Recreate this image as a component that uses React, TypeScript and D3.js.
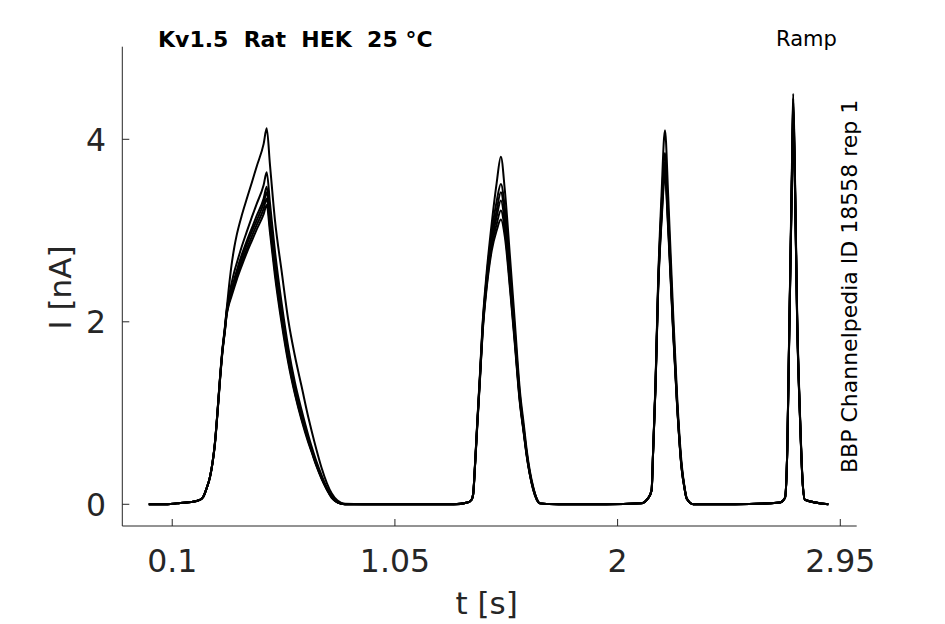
import React from "react";
import * as d3 from "d3";

// time grid [s] shared by all sweeps
const time = [
  0.0, 0.06, 0.12, 0.18, 0.215, 0.232, 0.246, 0.261, 0.272, 0.282, 0.293, 0.304, 0.314, 0.325,
  0.332, 0.339, 0.353, 0.365, 0.375, 0.396, 0.417, 0.44, 0.46, 0.49, 0.503,
  0.517, 0.538, 0.567, 0.595, 0.623, 0.652, 0.68, 0.695, 0.715, 0.737, 0.76, 0.78, 0.805, 0.837, 0.915,
  1.1, 1.3, 1.36, 1.377, 1.384, 1.391, 1.401, 1.413, 1.424, 1.441, 1.463, 1.484, 1.502, 1.519, 1.541, 1.562, 1.583, 1.6, 1.612, 1.626, 1.64, 1.655, 1.669, 1.75,
  1.95, 2.1, 2.131, 2.145, 2.152, 2.162, 2.173, 2.187, 2.202, 2.216, 2.237, 2.254, 2.273, 2.285, 2.295, 2.323,
  2.5, 2.693, 2.714, 2.724, 2.731, 2.738, 2.745, 2.749, 2.757, 2.766, 2.778, 2.789, 2.799, 2.899,
];

// current [nA] per sweep
const sweep1 = [
  0, 0, 0.01, 0.025, 0.045, 0.08, 0.17, 0.3, 0.46, 0.67, 1.02, 1.4, 1.7, 1.95,
  2.13, 2.31, 2.62, 2.82, 2.95, 3.16, 3.34, 3.53, 3.7, 3.95, 4.12,
  3.72, 3.12, 2.55, 2.02, 1.63, 1.29, 0.96, 0.8, 0.6, 0.4, 0.23, 0.12, 0.04, 0.005, 0,
  0, 0, 0.02, 0.05, 0.12, 0.41, 0.89, 1.44, 1.98, 2.53, 3.08, 3.52, 3.81, 3.44, 2.71, 1.98, 1.25, 0.87, 0.6, 0.36, 0.19, 0.06, 0.01, 0,
  0, 0.01, 0.07, 0.16, 0.63, 1.36, 2.46, 3.37, 4.1, 3.37, 2.09, 1.18, 0.45, 0.2, 0.07, 0,
  0, 0.02, 0.07, 0.63, 1.73, 2.82, 3.92, 4.5, 3.55, 2.09, 1.0, 0.27, 0.05, 0,
];
const sweep2 = [
  0, 0, 0.01, 0.025, 0.045, 0.08, 0.17, 0.3, 0.46, 0.67, 1.01, 1.39, 1.69, 1.94,
  2.12, 2.24, 2.42, 2.55, 2.64, 2.82, 2.98, 3.15, 3.29, 3.5, 3.64,
  3.3, 2.78, 2.2, 1.72, 1.34, 1.03, 0.76, 0.63, 0.47, 0.32, 0.18, 0.09, 0.02, 0, 0,
  0, 0, 0.02, 0.05, 0.12, 0.4, 0.88, 1.42, 1.95, 2.48, 2.98, 3.32, 3.51, 3.25, 2.58, 1.88, 1.2, 0.82, 0.57, 0.34, 0.18, 0.06, 0.01, 0,
  0, 0.01, 0.07, 0.16, 0.62, 1.34, 2.42, 3.25, 3.85, 3.2, 1.98, 1.12, 0.42, 0.19, 0.06, 0,
  0, 0.02, 0.07, 0.62, 1.7, 2.78, 3.85, 4.45, 3.5, 2.05, 0.98, 0.26, 0.05, 0,
];
const sweep3 = [
  0, 0, 0.01, 0.025, 0.045, 0.08, 0.17, 0.3, 0.46, 0.67, 1.01, 1.39, 1.68, 1.93,
  2.1, 2.21, 2.36, 2.47, 2.56, 2.73, 2.88, 3.03, 3.16, 3.35, 3.48,
  3.15, 2.65, 2.1, 1.64, 1.28, 0.98, 0.72, 0.6, 0.45, 0.3, 0.17, 0.08, 0.02, 0, 0,
  0, 0, 0.02, 0.05, 0.12, 0.4, 0.87, 1.41, 1.93, 2.45, 2.92, 3.22, 3.42, 3.16, 2.5, 1.83, 1.17, 0.8, 0.56, 0.33, 0.17, 0.06, 0.01, 0,
  0, 0.01, 0.07, 0.16, 0.62, 1.33, 2.4, 3.2, 3.75, 3.12, 1.94, 1.1, 0.41, 0.19, 0.06, 0,
  0, 0.02, 0.07, 0.62, 1.7, 2.76, 3.82, 4.4, 3.48, 2.03, 0.97, 0.26, 0.05, 0,
];
const sweep4 = [
  0, 0, 0.01, 0.025, 0.045, 0.08, 0.17, 0.3, 0.46, 0.66, 1.0, 1.38, 1.68, 1.92,
  2.09, 2.19, 2.33, 2.44, 2.52, 2.69, 2.84, 2.99, 3.11, 3.3, 3.42,
  3.1, 2.61, 2.06, 1.61, 1.26, 0.96, 0.71, 0.59, 0.44, 0.29, 0.17, 0.08, 0.02, 0, 0,
  0, 0, 0.02, 0.05, 0.11, 0.39, 0.86, 1.4, 1.91, 2.42, 2.88, 3.15, 3.33, 3.08, 2.45, 1.8, 1.15, 0.79, 0.55, 0.33, 0.17, 0.06, 0.01, 0,
  0, 0.01, 0.07, 0.15, 0.61, 1.32, 2.38, 3.16, 3.7, 3.08, 1.92, 1.09, 0.4, 0.18, 0.06, 0,
  0, 0.02, 0.07, 0.61, 1.68, 2.74, 3.78, 4.36, 3.45, 2.02, 0.96, 0.25, 0.05, 0,
];
const sweep5 = [
  0, 0, 0.01, 0.025, 0.045, 0.08, 0.17, 0.3, 0.45, 0.66, 1.0, 1.37, 1.67, 1.91,
  2.08, 2.18, 2.31, 2.41, 2.49, 2.65, 2.79, 2.94, 3.06, 3.24, 3.35,
  3.04, 2.56, 2.02, 1.58, 1.23, 0.94, 0.7, 0.58, 0.43, 0.29, 0.16, 0.08, 0.02, 0, 0,
  0, 0, 0.02, 0.05, 0.11, 0.39, 0.85, 1.38, 1.89, 2.39, 2.83, 3.07, 3.22, 3.0, 2.4, 1.77, 1.13, 0.78, 0.54, 0.32, 0.16, 0.05, 0.01, 0,
  0, 0.01, 0.07, 0.15, 0.61, 1.31, 2.36, 3.12, 3.64, 3.04, 1.9, 1.08, 0.4, 0.18, 0.06, 0,
  0, 0.02, 0.07, 0.61, 1.67, 2.72, 3.75, 4.3, 3.42, 2.0, 0.95, 0.25, 0.05, 0,
];
const sweep6 = [
  0, 0, 0.01, 0.025, 0.045, 0.08, 0.17, 0.29, 0.45, 0.65, 0.99, 1.36, 1.66, 1.9,
  2.07, 2.16, 2.28, 2.38, 2.46, 2.61, 2.75, 2.89, 3.01, 3.18, 3.28,
  2.98, 2.51, 1.98, 1.55, 1.21, 0.92, 0.68, 0.57, 0.42, 0.28, 0.16, 0.07, 0.02, 0, 0,
  0, 0, 0.02, 0.05, 0.11, 0.38, 0.84, 1.37, 1.87, 2.36, 2.78, 3.0, 3.12, 2.93, 2.36, 1.74, 1.11, 0.77, 0.53, 0.32, 0.16, 0.05, 0.01, 0,
  0, 0.01, 0.07, 0.15, 0.6, 1.3, 2.34, 3.08, 3.58, 3.0, 1.88, 1.07, 0.39, 0.18, 0.06, 0,
  0, 0.02, 0.07, 0.6, 1.66, 2.7, 3.72, 4.24, 3.4, 1.98, 0.94, 0.25, 0.05, 0,
];

const sweeps = [sweep6, sweep5, sweep4, sweep3, sweep2, sweep1];

const xTicks = [0.1, 1.05, 2, 2.95];
const xTickLabels = ["0.1", "1.05", "2", "2.95"];
const yTicks = [0, 2, 4];
const yTickLabels = ["0", "2", "4"];

const title = "Kv1.5\u00a0\u00a0Rat\u00a0\u00a0HEK\u00a0\u00a025 °C";
const protocolLabel = "Ramp";
const sourceLabel = "BBP Channelpedia ID 18558 rep 1";
const xLabel = "t [s]";
const yLabel = "I [nA]";

const FONT = "'DejaVu Sans', sans-serif";
const AX = "#262626";

export default function App() {
  const left = 122.3;
  const right = 856.7;
  const top = 46.7;
  const bottom = 526;
  const x = d3.scaleLinear().domain([-0.113, 3.02]).range([left, right]);
  const y = d3.scaleLinear().domain([-0.238, 5.015]).range([bottom, top]);
  const line = d3
    .line<number>()
    .x((_, i) => x(time[i]))
    .y((d) => y(d))
    .curve(d3.curveMonotoneX);

  return (
    <svg
      width={945}
      height={624}
      style={{ position: "absolute", left: 0, top: 0, background: "#fff" }}
      fontFamily={FONT}
    >
      <rect x={0} y={0} width={945} height={624} fill="#fff" />
      {sweeps.map((s, i) => (
        <path
          key={i}
          d={line(s) || ""}
          fill="none"
          stroke="#000"
          strokeWidth={2}
          strokeLinejoin="round"
        />
      ))}
      <line x1={left} x2={left} y1={top} y2={bottom} stroke={AX} strokeWidth={1} />
      <line x1={left} x2={right} y1={bottom} y2={bottom} stroke={AX} strokeWidth={1} />
      {xTicks.map((t, i) => (
        <g key={"xt" + i}>
          <line x1={x(t)} x2={x(t)} y1={bottom} y2={bottom - 7} stroke={AX} strokeWidth={1} />
          <text x={x(t)} y={572} textAnchor="middle" fontSize={31.5} fill={AX}>
            {xTickLabels[i]}
          </text>
        </g>
      ))}
      {yTicks.map((v, i) => (
        <g key={"yt" + i}>
          <line x1={left} x2={left + 7} y1={y(v)} y2={y(v)} stroke={AX} strokeWidth={1} />
          <text x={106} y={y(v) + 11.5} textAnchor="end" fontSize={31.5} fill={AX}>
            {yTickLabels[i]}
          </text>
        </g>
      ))}
      <text x={486.7} y={614} textAnchor="middle" fontSize={31} fill={AX}>
        {xLabel}
      </text>
      <text transform={`translate(71,287.5) rotate(-90)`} textAnchor="middle" fontSize={31} fill={AX}>
        {yLabel}
      </text>
      <text x={158} y={46.7} fontSize={22} fontWeight="bold" fill="#000">
        {title}
      </text>
      <text x={776} y={46} fontSize={21} fill="#000">
        {protocolLabel}
      </text>
      <text transform={`translate(857,473) rotate(-90)`} fontSize={22} fill="#000">
        {sourceLabel}
      </text>
    </svg>
  );
}
